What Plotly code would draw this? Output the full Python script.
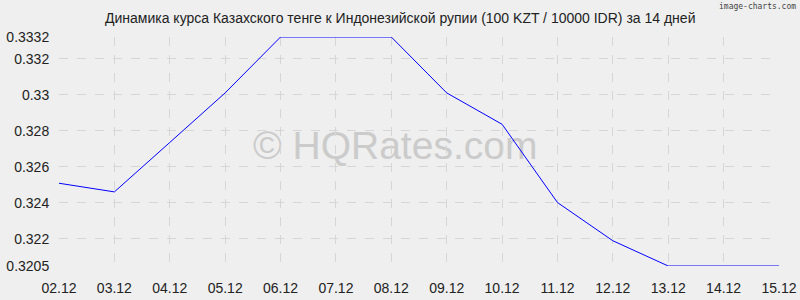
import plotly.graph_objects as go

dates = ["02.12", "03.12", "04.12", "05.12", "06.12", "07.12", "08.12",
         "09.12", "10.12", "11.12", "12.12", "13.12", "14.12", "15.12"]
rates = [0.32509, 0.32461, 0.32735, 0.33010, 0.33320, 0.33320, 0.33320,
         0.33010, 0.32836, 0.32402, 0.32190, 0.32050, 0.32050, 0.32050]
y_ticks = [0.3205, 0.322, 0.324, 0.326, 0.328, 0.33, 0.332, 0.3332]
y_tick_text = ["0.3205", "0.322", "0.324", "0.326", "0.328", "0.33", "0.332", "0.3332"]

title = "Динамика курса Казахского тенге к Индонезийской рупии (100 KZT / 10000 IDR) за 14 дней"

x_idx = list(range(len(dates)))

fig = go.Figure()
fig.add_trace(go.Scatter(
    x=x_idx, y=rates, mode="lines",
    line=dict(color="#0000ff", width=1),
    hoverinfo="skip", showlegend=False,
))

font_family = "Liberation Sans, Arial, sans-serif"

fig.update_layout(
    width=800, height=300,
    margin=dict(l=59, r=21, t=37, b=34, autoexpand=False),
    paper_bgcolor="#efefef",
    plot_bgcolor="#efefef",
    font=dict(family=font_family, size=14, color="#222222"),
    xaxis=dict(
        range=[0, len(dates) - 1],
        tickmode="array", tickvals=x_idx, ticktext=dates,
        showgrid=True, gridcolor="#d6d6d6", griddash="dash", gridwidth=1,
        zeroline=False, showline=False,
        ticks="outside", ticklen=9, tickcolor="rgba(0,0,0,0)", automargin=False,
        tickfont=dict(size=14, color="#222222", family=font_family),
    ),
    yaxis=dict(
        range=[y_ticks[0], y_ticks[-1]],
        tickmode="array", tickvals=y_ticks, ticktext=y_tick_text,
        showgrid=True, gridcolor="#d6d6d6", griddash="dash", gridwidth=1,
        zeroline=False, showline=False,
        ticks="outside", ticklen=6, tickcolor="rgba(0,0,0,0)", automargin=False,
        tickfont=dict(size=14, color="#222222", family=font_family),
    ),
    annotations=[
        dict(text=title, x=0.5, xref="paper", y=18, yref="paper",
             showarrow=False, font=dict(size=14, color="#222222", family=font_family)),
        dict(text="image-charts.com", x=797, y=8, showarrow=False,
             font=dict(size=8, color="#444444", family="DejaVu Sans Mono, monospace")),
    ],
    shapes=[
        dict(type="rect", xref="x", yref="y", x0=3.07, x1=9.07, y0=0.32616, y1=0.32866,
             line=dict(width=0), fillcolor="rgba(0,0,0,0)", layer="below",
             label=dict(text="© HQRates.com",
                        font=dict(size=39, color="#cbcbcb", family=font_family),
                        textposition="middle center")),
    ],
)

# position annotations in pixel coordinates via paper fractions
pw, ph = 800 - 59 - 21, 300 - 37 - 34
def px_to_paper(x, y):
    return (x - 59) / pw, (300 - 34 - y) / ph

ax, ay = px_to_paper(400, 18)
fig.layout.annotations[0].update(x=ax, y=ay, xanchor="center", yanchor="middle")
bx, by = px_to_paper(798, 7)
fig.layout.annotations[1].update(x=bx, y=by, xref="paper", yref="paper",
                                 xanchor="right", yanchor="middle")

fig.write_html("out.html")
